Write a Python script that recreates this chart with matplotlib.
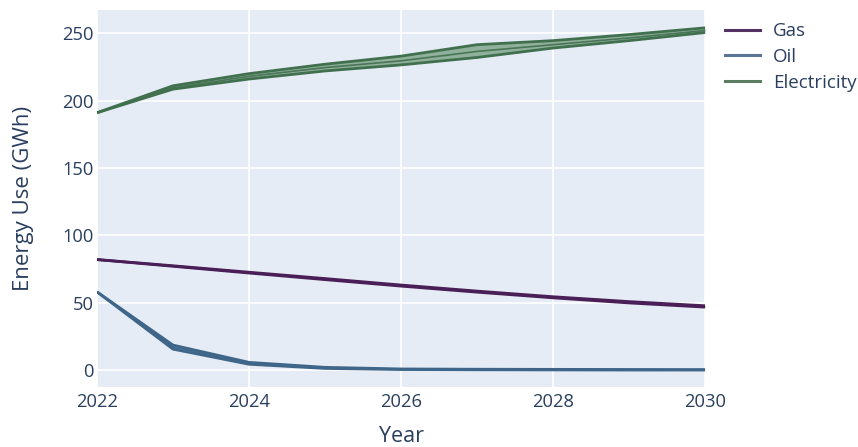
import matplotlib
matplotlib.use("Agg")
import matplotlib.pyplot as plt
from matplotlib.lines import Line2D

plt.rcParams['font.family'] = ['Open Sans', 'DejaVu Sans']

years = [2022, 2023, 2024, 2025, 2026, 2027, 2028, 2029, 2030]

# Projected energy use (GWh): central estimate with lower / upper bounds
gas_mid = [82, 77.2, 72.3, 67.5, 62.7, 58.2, 54.0, 50.3, 47.2]
gas_low = [82, 77.0, 72.0, 67.1, 62.3, 57.8, 53.6, 49.8, 46.7]
gas_high = [82, 77.4, 72.6, 67.9, 63.1, 58.6, 54.4, 50.8, 47.7]

oil_mid = [58, 17.0, 5.0, 1.6, 0.6, 0.4, 0.3, 0.2, 0.1]
oil_low = [58, 15.5, 4.3, 1.2, 0.4, 0.2, 0.1, 0.0, 0.0]
oil_high = [58, 18.5, 5.7, 2.0, 0.8, 0.6, 0.5, 0.4, 0.3]

elec_mid = [191, 209.5, 218.0, 224.5, 229.5, 236.5, 241.5, 246.5, 252.0]
elec_low = [191, 208.5, 216.0, 222.0, 226.5, 232.0, 239.0, 244.5, 250.5]
elec_high = [191, 211.0, 220.0, 227.0, 233.0, 241.5, 244.5, 249.0, 254.0]

series = [
    ("Gas", gas_low, gas_mid, gas_high, "#4a1f57", "#8a6a93", "#553062"),
    ("Oil", oil_low, oil_mid, oil_high, "#3f6688", "#8aa3bb", "#5a7595"),
    ("Electricity", elec_low, elec_mid, elec_high, "#41704f", "#8fb09a", "#5b7d61"),
]

fig = plt.figure(figsize=(8.58, 4.47), dpi=100)
ax = fig.add_axes([0.1131, 0.1342, 0.7086, 0.8445])
ax.set_facecolor("#E5ECF6")

for name, low, mid, high, line_c, fill_c, _ in series:
    ax.fill_between(years, low, high, color=fill_c, linewidth=0, zorder=2)
    ax.plot(years, low, color=line_c, linewidth=2.0, zorder=3, solid_capstyle='butt')
    ax.plot(years, high, color=line_c, linewidth=2.0, zorder=3, solid_capstyle='butt')
    ax.plot(years, mid, color=line_c, linewidth=1.2, zorder=4, alpha=0.9)

ax.set_xlim(2022, 2030)
ax.set_ylim(-12.6, 267.6)
ax.set_xticks([2022, 2024, 2026, 2028, 2030])
ax.set_yticks([0, 50, 100, 150, 200, 250])
ax.grid(True, color="white", linewidth=1.2, zorder=0)
ax.set_axisbelow(True)
for s in ax.spines.values():
    s.set_visible(False)
ax.tick_params(axis='both', length=0, labelsize=13.2, labelcolor="#2a3f5f")
ax.tick_params(axis='x', pad=4)
ax.tick_params(axis='y', pad=2.5)

ax.set_xlabel("Year", fontsize=15.5, color="#2a3f5f", labelpad=11)
ax.set_ylabel("Energy Use (GWh)", fontsize=16, color="#2a3f5f", labelpad=20)

handles = [Line2D([0], [0], color=leg_c, linewidth=2.2) for *_, leg_c in series]
labels = [s[0] for s in series]
leg = fig.legend(handles, labels, loc='upper left', bbox_to_anchor=(0.845, 0.95),
                 frameon=False, fontsize=13.5, handlelength=1.87, handletextpad=0.7,
                 labelspacing=0.41, borderaxespad=0, borderpad=0)
for t in leg.get_texts():
    t.set_color("#2a3f5f")

fig.savefig("out.png", dpi=100)
